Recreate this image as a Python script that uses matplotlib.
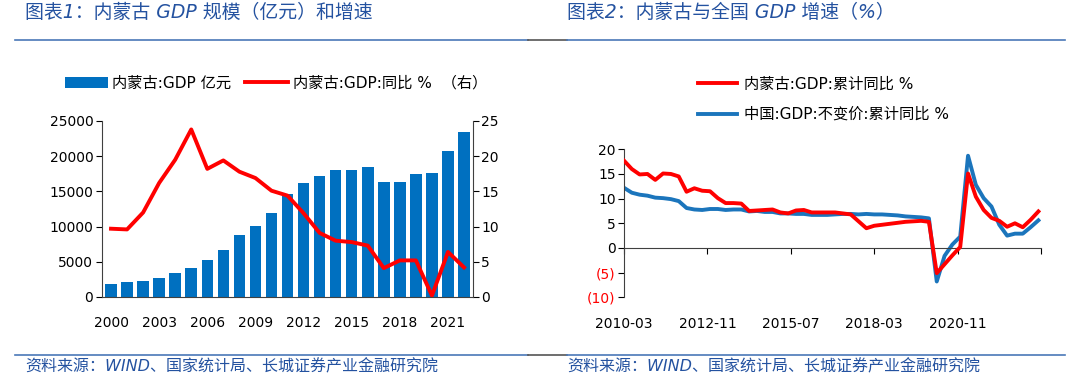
import numpy as np
import matplotlib
matplotlib.use("Agg")
import matplotlib.pyplot as plt
from matplotlib.lines import Line2D

plt.rcParams['font.family'] = ['DejaVu Sans', 'Noto Sans CJK SC']
plt.rcParams['axes.unicode_minus'] = False

# ---- chart 1: Inner Mongolia GDP (100m yuan) and growth ----
years = list(range(2000, 2023))
gdp = [1790, 2120, 2260, 2640, 3350, 4150, 5190, 6700, 8770, 10050, 11930,
       14620, 16180, 17170, 18070, 18070, 18400, 16370, 16370, 17450, 17590,
       20800, 23400]
growth = [9.7, 9.6, 12.0, 16.2, 19.5, 23.8, 18.2, 19.4, 17.8, 16.9, 15.1,
          14.4, 11.9, 9.1, 8.0, 7.8, 7.3, 4.1, 5.2, 5.2, 0.2, 6.4, 4.2]
year_ticks = [2000, 2003, 2006, 2009, 2012, 2015, 2018, 2021]

# ---- chart 2: cumulative yoy growth, quarterly 2010-03 .. 2023-06 ----
quarters = [f"{y}-{m:02d}" for y in range(2010, 2024) for m in (3, 6, 9, 12)][:54]
nm_growth = [17.7, 16.0, 14.9, 15.0,
             13.8, 15.1, 15.0, 14.5,
             11.4, 12.1, 11.6, 11.5,
             10.1, 9.1, 9.1, 9.0,
             7.5, 7.6, 7.7, 7.8,
             7.2, 7.0, 7.6, 7.7,
             7.2, 7.2, 7.2, 7.2,
             7.0, 6.8, 5.4, 4.0,
             4.5, 4.7, 4.9, 5.1,
             5.3, 5.4, 5.5, 5.3,
             -5.1, -3.3, -1.5, 0.2,
             15.1, 10.4, 7.7, 6.1,
             5.5, 4.3, 5.0, 4.2,
             5.7, 7.4]
cn_growth = [12.2, 11.2, 10.8, 10.6,
             10.2, 10.1, 9.9, 9.5,
             8.1, 7.8, 7.7, 7.9,
             7.9, 7.7, 7.8, 7.8,
             7.4, 7.5, 7.3, 7.3,
             7.0, 7.0, 6.9, 6.9,
             6.7, 6.7, 6.7, 6.8,
             6.9, 6.9, 6.8, 6.9,
             6.8, 6.8, 6.7, 6.6,
             6.4, 6.3, 6.2, 6.0,
             -6.8, -1.6, 0.7, 2.3,
             18.7, 12.8, 10.1, 8.4,
             4.7, 2.5, 2.9, 2.9,
             4.2, 5.6]
date_ticks = ["2010-03", "2012-11", "2015-07", "2018-03", "2020-11"]

title_color = '#2452A0'
bar_color = '#0070C0'
red = '#FF0000'
blue = '#1B75BC'


def month_index(s):
    y, m = s.split('-')
    return (int(y) - 2010) * 12 + int(m) - 3


fig = plt.figure(figsize=(10.8, 3.81), dpi=100)

# header / footer decorations
fig.text(25 / 1080, 1 - 12 / 381, "图表1：内蒙古 GDP 规模（亿元）和增速", color=title_color,
         fontsize=13.6, style='italic', va='center', ha='left')
fig.text(567 / 1080, 1 - 12 / 381, "图表2：内蒙古与全国 GDP 增速（%）", color=title_color,
         fontsize=13.6, style='italic', va='center', ha='left')
for yy in (1 - 40 / 381, 1 - 355 / 381):
    fig.add_artist(Line2D([15 / 1080, 528 / 1080], [yy, yy], color='#4A78B8', lw=1.2))
    fig.add_artist(Line2D([528 / 1080, 567 / 1080], [yy, yy], color='#555555', lw=1.2))
    fig.add_artist(Line2D([567 / 1080, 1065 / 1080], [yy, yy], color='#4A78B8', lw=1.2))
src = "资料来源：WIND、国家统计局、长城证券产业金融研究院"
fig.text(25 / 1080, 1 - 367 / 381, src, color=title_color, fontsize=11.5,
         style='italic', va='center', ha='left')
fig.text(567 / 1080, 1 - 367 / 381, src, color=title_color, fontsize=11.5,
         style='italic', va='center', ha='left')

# ---- left chart ----
ax1 = fig.add_axes([101.7 / 1080, 84 / 381, 371 / 1080, 176 / 381])
bars = ax1.bar(years, gdp, width=0.72, color=bar_color, label='内蒙古:GDP 亿元', zorder=2)
ax1.set_xlim(1999.42, 2022.54)
ax1.set_ylim(0, 25000)
ax1.set_yticks(range(0, 25001, 5000))
ax1.set_xticks(year_ticks)
ax1.tick_params(axis='x', length=0, pad=14, labelsize=10)
ax1.tick_params(axis='y', direction='out', length=4, labelsize=10, pad=2)
ax1.spines['top'].set_visible(False)
ax1.spines['right'].set_visible(False)
for s in ('left', 'bottom'):
    ax1.spines[s].set_color('#404040')

ax1r = ax1.twinx()
ln, = ax1r.plot(years, growth, color=red, lw=2.8, label='内蒙古:GDP:同比 %  （右）', zorder=3)
ax1r.set_ylim(0, 25)
ax1r.set_yticks(range(0, 26, 5))
ax1r.tick_params(axis='y', direction='out', length=4, labelsize=10, pad=2)
ax1r.spines['top'].set_visible(False)
ax1r.spines['left'].set_visible(False)
ax1r.spines['bottom'].set_visible(False)
ax1r.spines['right'].set_color('#404040')

fig.legend(handles=[bars, ln], loc='center', bbox_to_anchor=(276 / 1080, 1 - 83 / 381),
           ncol=2, frameon=False, fontsize=11, handlelength=2.8, handleheight=0.7,
           columnspacing=0.9, handletextpad=0.3)

# ---- right chart ----
ax2 = fig.add_axes([624 / 1080, (381 - 297.3) / 381, 417 / 1080, 148 / 381])
xq = [month_index(q) for q in quarters]
ax2.plot(xq, nm_growth, color=red, lw=2.8, label='内蒙古:GDP:累计同比 %', zorder=3)
ax2.plot(xq, cn_growth, color=blue, lw=2.8, label='中国:GDP:不变价:累计同比 %', zorder=2)
ax2.set_xlim(0, 160)
ax2.set_ylim(-10, 20)
yt = list(range(-10, 21, 5))
ax2.set_yticks(yt, [f"({-v})" if v < 0 else str(v) for v in yt])
for lab, v in zip(ax2.get_yticklabels(), yt):
    if v < 0:
        lab.set_color(red)
ax2.tick_params(axis='y', direction='out', length=4, labelsize=10, pad=2)
ax2.spines['top'].set_visible(False)
ax2.spines['right'].set_visible(False)
ax2.spines['left'].set_color('#404040')
ax2.spines['bottom'].set_position(('data', 0))
ax2.spines['bottom'].set_color('#404040')
xt = [month_index(d) for d in date_ticks] + [160]
ax2.set_xticks(xt)
ax2.tick_params(axis='x', direction='out', length=4, labelbottom=False)
sec = ax2.secondary_xaxis('bottom')
sec.set_xticks(xt, date_ticks + [''])
sec.tick_params(axis='x', length=0, pad=14, labelsize=10)
sec.spines['bottom'].set_visible(False)

ax2.legend(loc='upper left', bbox_to_anchor=(684 / 1080, 1 - 63 / 381),
           bbox_transform=fig.transFigure, frameon=False, fontsize=11,
           handlelength=2.6, handletextpad=0.4, labelspacing=1.0)

fig.savefig('out.png', dpi=100)
